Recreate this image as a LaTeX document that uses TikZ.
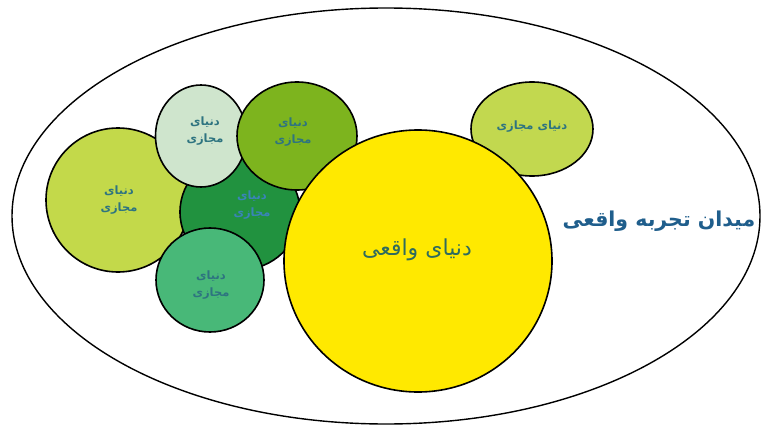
\documentclass[tikz,border=0pt]{standalone}
\usepackage{fontspec}
\TeXXeTstate=1
\newfontfamily\fa[Script=Arabic]{DejaVu Sans}
\newfontfamily\fab[Script=Arabic]{DejaVu Sans Bold}
\definecolor{cLeft}{HTML}{C3D94A}
\definecolor{cPale}{HTML}{CFE5CD}
\definecolor{cMid}{HTML}{7DB41E}
\definecolor{cDark}{HTML}{21923F}
\definecolor{cBot}{HTML}{48B878}
\definecolor{cTR}{HTML}{C2D84F}
\definecolor{cYel}{HTML}{FFE900}
\definecolor{tTeal}{HTML}{2E7480}
\definecolor{tBlue}{HTML}{3A84B8}
\definecolor{tTitle}{HTML}{1F5E8C}
\definecolor{tYel}{HTML}{2F6B5E}
\tikzset{
  blob/.style={draw=black, line width=1.6pt},
  small/.style={font=\fab\fontsize{11.5}{17}\selectfont, align=center, inner sep=0pt, text=tTeal},
}
\begin{document}
\begin{tikzpicture}[x=1pt,y=-1pt]
\useasboundingbox (0,0) rectangle (765,425);
\fill[white] (0,0) rectangle (765,425);
\begin{scope}
\clip (0,0) rectangle (765,425);
\draw[line width=1.4pt] (386,216) ellipse [x radius=374, y radius=208];
\end{scope}
% circles
\filldraw[blob, fill=cLeft] (118,200) ellipse [x radius=72, y radius=72];
\filldraw[blob, fill=cDark] (240,212) ellipse [x radius=60, y radius=58];
\filldraw[blob, fill=cPale] (201,136) ellipse [x radius=45.5, y radius=51];
\filldraw[blob, fill=cMid] (297,136) ellipse [x radius=60, y radius=54];
\filldraw[blob, fill=cBot] (210,280) ellipse [x radius=54, y radius=52];
\filldraw[blob, fill=cTR] (532,129) ellipse [x radius=61, y radius=47];
\filldraw[blob, fill=cYel] (418,261) ellipse [x radius=134, y radius=131];
% labels
\node[small] (tleft) at (119,200) {\beginR دنیای\endR\\\beginR مجازی\endR};
\node[small] (tpale) at (205,131) {\beginR دنیای\endR\\\beginR مجازی\endR};
\node[small] (tmid) at (293,132) {\beginR دنیای\endR\\\beginR مجازی\endR};
\node[small, text=tBlue] (tdark) at (252,205) {\beginR دنیای\endR\\\beginR مجازی\endR};
\node[small] (tbot) at (211,285) {\beginR دنیای\endR\\\beginR مجازی\endR};
\node[small] (ttr) at (532,127) {\beginR دنیای مجازی\endR};
\node[font=\fa\fontsize{22}{26}\selectfont, text=tYel, inner sep=0pt] (treal) at (417,250) {\beginR دنیای واقعی\endR};
\node[font=\fab\fontsize{20.5}{25}\selectfont, text=tTitle, inner sep=0pt] (title) at (659,221) {\beginR میدان تجربه واقعی\endR};
\end{tikzpicture}
\end{document}
